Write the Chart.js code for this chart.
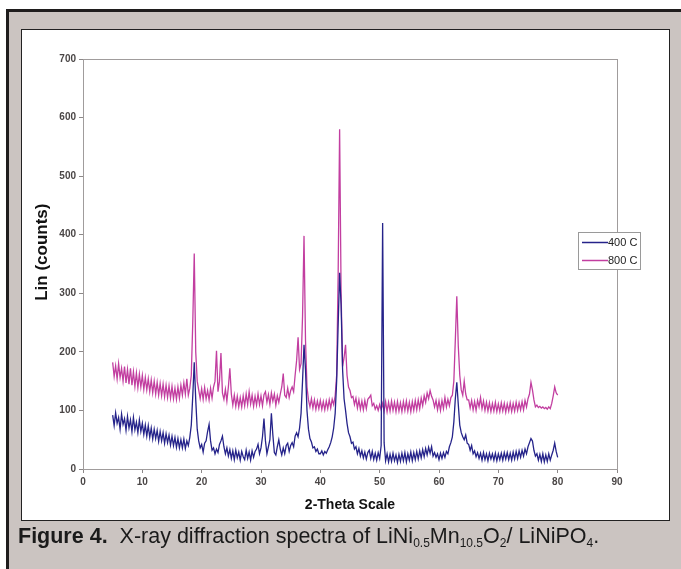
<!DOCTYPE html>
<html>
<head>
<meta charset="utf-8">
<script src="https://cdn.jsdelivr.net/npm/chart.js@4/dist/chart.umd.min.js"></script>
<style>
  html, body { margin: 0; padding: 0; background: #fff; width: 681px; height: 569px; overflow: hidden; }
  #frame {
    position: absolute; left: 6px; top: 9px; width: 690px; height: 580px;
    background: #cbc4c1; border: 3px solid #1f1d1d; box-sizing: border-box;
  }
  #panel {
    position: absolute; left: 21px; top: 29px; width: 649px; height: 492px;
    background: #fff; border: 1px solid #222; box-sizing: border-box;
  }
  #chart { position: absolute; left: 0; top: 0; }
  #caption {
    position: absolute; left: 18px; top: 524px; white-space: nowrap;
    font-family: 'Liberation Sans Narrow', 'Arial Narrow', 'Liberation Sans', sans-serif;
    font-size: 21.5px; color: #1a1a1a;
  }
  #caption b { font-weight: bold; }
  #caption sub { font-size: 12px; vertical-align: -4px; line-height: 0; }
</style>
</head>
<body>
<div id="frame"></div>
<div id="panel"></div>
<canvas id="chart" width="681" height="569"></canvas>
<div id="caption"><b>Figure 4.</b>&nbsp; X-ray diffraction spectra of LiNi<sub>0.5</sub>Mn<sub>10.5</sub>O<sub>2</sub>/ LiNiPO<sub>4</sub>.</div>

<script>
// --- DADOS ---
// passo de varredura 0.25 grau, de 5 a 80
const scanStart = 5;
const scanStep = 0.25;

const seriesLabels = ['400 C', '800 C'];
const seriesColors = ['#25238a', '#c23ea0'];

const xTicks = [0, 10, 20, 30, 40, 50, 60, 70, 80, 90];
const yTicks = [0, 100, 200, 300, 400, 500, 600, 700];

// 400 C, uma linha por faixa de 5 graus
const counts400 = [
  92, 74, 96, 78, 88, 68, 94, 76, 86, 66, 90, 70, 84, 64, 88, 67, 80, 62, 84, 64,         // 5
  78, 59, 75, 56, 74, 54, 70, 51, 68, 52, 66, 47, 64, 48, 62, 44, 60, 45, 58, 41,         // 10
  56, 40, 54, 37, 52, 36, 50, 36, 51, 35, 48, 40, 54, 75, 125, 182, 118, 68, 48, 36,      // 15
  42, 29, 44, 48, 64, 76, 48, 32, 36, 26, 34, 28, 42, 48, 56, 38, 26, 36, 22, 33,         // 20
  18, 31, 16, 32, 19, 29, 15, 30, 21, 16, 32, 18, 29, 15, 31, 20, 30, 34, 42, 26,         // 25
  36, 55, 86, 48, 26, 38, 50, 95, 58, 28, 24, 38, 50, 34, 24, 36, 26, 40, 44, 30,         // 30
  40, 45, 38, 56, 62, 55, 70, 95, 150, 212, 170, 100, 68, 52, 46, 36, 38, 30, 34, 26,     // 35
  26, 31, 24, 30, 27, 33, 38, 45, 55, 70, 95, 150, 245, 335, 280, 170, 120, 100, 78, 62,  // 40
  55, 44, 46, 34, 38, 26, 35, 22, 31, 19, 29, 17, 28, 32, 18, 30, 16, 27, 15, 28,         // 45
  18, 40, 420, 45, 14, 26, 12, 25, 13, 27, 14, 24, 11, 25, 13, 27, 14, 28, 12, 26,        // 50
  15, 29, 14, 28, 16, 30, 17, 31, 19, 33, 21, 35, 24, 37, 27, 38, 22, 28, 20, 26,         // 55
  16, 27, 18, 28, 20, 30, 26, 38, 45, 55, 80, 120, 148, 110, 75, 62, 55, 50, 58, 44,      // 60
  42, 32, 40, 26, 31, 21, 28, 18, 27, 15, 28, 16, 26, 14, 27, 17, 26, 15, 27, 14,         // 65
  26, 16, 27, 15, 28, 17, 28, 16, 27, 15, 29, 17, 30, 18, 31, 20, 32, 22, 34, 26,         // 70
  38, 45, 52, 48, 32, 22, 26, 15, 25, 13, 26, 12, 24, 13, 26, 15, 24, 32, 44, 30,         // 75
  20                                                                                      // 80
];

// 800 C
const counts800 = [
  182, 158, 176, 154, 180, 156, 172, 150, 175, 147, 170, 145, 172, 143, 166, 141, 164, 139, 162, 140, // 5
  160, 136, 156, 135, 154, 132, 152, 130, 150, 128, 148, 126, 146, 125, 145, 123, 143, 122, 142, 121, // 10
  141, 120, 138, 119, 140, 121, 143, 126, 147, 128, 154, 126, 138, 160, 250, 368, 200, 150, 135, 120, // 15
  137, 119, 139, 120, 134, 118, 138, 121, 140, 150, 202, 132, 150, 198, 130, 119, 136, 116, 140, 172, // 20
  128, 109, 126, 107, 124, 106, 122, 106, 125, 108, 128, 110, 132, 111, 126, 107, 124, 109, 128, 110, // 25
  125, 108, 127, 132, 114, 127, 110, 130, 116, 128, 109, 125, 114, 128, 140, 163, 126, 122, 138, 122, // 30
  134, 140, 132, 160, 185, 225, 170, 180, 260, 398, 220, 140, 118, 106, 120, 104, 118, 102, 116, 103, // 35
  117, 102, 115, 101, 116, 103, 118, 104, 119, 110, 125, 160, 330, 580, 300, 175, 190, 212, 160, 140, // 40
  134, 122, 124, 110, 121, 104, 118, 102, 116, 101, 117, 103, 119, 122, 126, 108, 112, 102, 108, 100, // 45
  110, 101, 112, 99, 115, 98, 114, 99, 116, 100, 114, 98, 115, 99, 113, 98, 115, 100, 116, 99,        // 50
  114, 98, 115, 100, 117, 101, 118, 103, 121, 108, 125, 114, 130, 120, 134, 124, 118, 106, 117, 101,  // 55
  116, 100, 117, 103, 122, 106, 119, 108, 122, 126, 150, 220, 295, 210, 160, 135, 126, 150, 128, 118, // 60
  118, 104, 117, 101, 115, 100, 117, 106, 122, 103, 116, 100, 114, 99, 113, 98, 112, 99, 114, 98,     // 65
  111, 98, 113, 99, 112, 97, 111, 99, 113, 98, 112, 99, 114, 100, 113, 101, 115, 101, 117, 106,       // 70
  120, 128, 148, 135, 118, 106, 109, 105, 107, 104, 106, 103, 105, 102, 106, 103, 112, 125, 140, 130, // 75
  126                                                                                                 // 80
];

const toPoints = (arr) => arr.map((v, i) => ({ x: scanStart + i * scanStep, y: v }));

// --- PLUGINS ---
// moldura da area de plotagem (estilo Excel)
const plotFrame = {
  id: 'plotFrame',
  beforeDatasetsDraw(chart) {
    const { ctx, chartArea: a } = chart;
    ctx.save();
    ctx.strokeStyle = '#a09c9c';
    ctx.lineWidth = 1;
    ctx.strokeRect(Math.round(a.left) + 0.5, Math.round(a.top) + 0.5, Math.round(a.right - a.left), Math.round(a.bottom - a.top));
    ctx.restore();
  }
};

// legenda em caixa, sobreposta na borda direita
const boxLegend = {
  id: 'boxLegend',
  afterDraw(chart) {
    const { ctx } = chart;
    const x0 = 578, y0 = 232, w = 62, h = 37;
    ctx.save();
    ctx.fillStyle = '#fff';
    ctx.fillRect(x0, y0, w, h);
    ctx.strokeStyle = '#9a9a9a';
    ctx.lineWidth = 1;
    ctx.strokeRect(x0 + 0.5, y0 + 0.5, w, h);
    ctx.font = '11px "Liberation Sans", Arial, sans-serif';
    ctx.textBaseline = 'middle';
    chart.data.datasets.forEach((ds, i) => {
      const y = y0 + 10 + i * 18;
      ctx.strokeStyle = ds.borderColor;
      ctx.lineWidth = 1.5;
      ctx.beginPath();
      ctx.moveTo(582, y + 0.5);
      ctx.lineTo(608, y + 0.5);
      ctx.stroke();
      ctx.fillStyle = '#222';
      ctx.fillText(ds.label, 608, y + 0.5);
    });
    ctx.restore();
  }
};

// --- CHART ---
const tickFont = { family: '"Liberation Sans", Arial, sans-serif', size: 10, weight: 'bold' };
const titleFont = { family: '"Liberation Sans", Arial, sans-serif', weight: 'bold' };

new Chart(document.getElementById('chart'), {
  type: 'line',
  data: {
    datasets: seriesLabels.map((label, i) => ({
      label: label,
      data: toPoints(i === 0 ? counts400 : counts800),
      borderColor: seriesColors[i],
      borderWidth: 1.3,
      pointRadius: 0,
      tension: 0
    }))
  },
  options: {
    responsive: false,
    animation: false,
    events: [],
    layout: { padding: { left: 21, top: 59, right: 64, bottom: 50 } },
    plugins: { legend: { display: false }, tooltip: { enabled: false } },
    scales: {
      x: {
        type: 'linear',
        min: 0, max: 90,
        afterFit: (s) => { s.height = 50; },
        afterBuildTicks: (s) => { s.ticks = xTicks.map(v => ({ value: v })); },
        border: { color: '#8c8888', width: 1 },
        grid: { drawOnChartArea: false, color: '#8c8888', tickLength: 4 },
        ticks: { font: tickFont, color: '#4a4646', padding: 3, maxRotation: 0 },
        title: { display: true, text: '2-Theta Scale', font: { ...titleFont, size: 14 }, color: '#111', padding: { top: 0, bottom: 5.5 } }
      },
      y: {
        min: 0, max: 700,
        afterFit: (s) => { s.width = 62; },
        afterBuildTicks: (s) => { s.ticks = yTicks.map(v => ({ value: v })); },
        border: { color: '#8c8888', width: 1 },
        grid: { drawOnChartArea: false, color: '#8c8888', tickLength: 4 },
        ticks: { font: tickFont, color: '#4a4646', padding: 3 },
        // espacos iniciais sobem o titulo, como no original
        title: { display: true, text: '\u00a0\u00a0\u00a0\u00a0\u00a0Lin (counts)', font: { ...titleFont, size: 17 }, color: '#111', padding: { top: 11, bottom: 0 } }
      }
    }
  },
  plugins: [plotFrame, boxLegend]
});
</script>
</body>
</html>
